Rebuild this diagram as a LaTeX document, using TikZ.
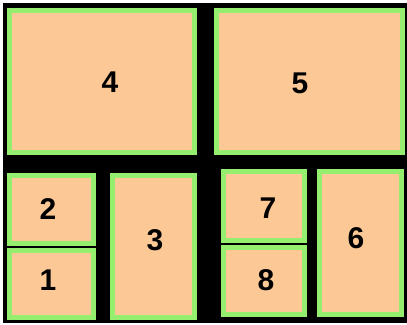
\documentclass[tikz,border=0pt]{standalone}
\usepackage{fontspec}
\setmainfont{Liberation Sans}
\definecolor{peach}{RGB}{252,201,150}
\definecolor{lgreen}{RGB}{150,238,110}
\tikzset{
  panel/.style={draw=lgreen, line width=5pt, fill=peach, inner sep=0pt, outer sep=0pt},
  num/.style={font=\fontsize{30}{30}\selectfont\bfseries, inner sep=0pt, text=black}
}
\begin{document}
\begin{tikzpicture}[x=1pt,y=-1pt]
\useasboundingbox (0,0) rectangle (407,324);
\fill[white] (0,0) rectangle (407,324);
\fill[black] (3,3) rectangle (407,323);
\node[panel, minimum width=185pt, minimum height=142pt] (b4) at (102,81.5) {};
\node[panel, minimum width=186pt, minimum height=142pt] (b5) at (309.5,81.5) {};
\node[panel, minimum width=84pt, minimum height=68pt] (b2) at (51.5,209.5) {};
\node[panel, minimum width=84pt, minimum height=67pt] (b1) at (51.5,284) {};
\node[panel, minimum width=82pt, minimum height=142pt] (b3) at (153.5,246.5) {};
\node[panel, minimum width=81pt, minimum height=69pt] (b7) at (264,206) {};
\node[panel, minimum width=81pt, minimum height=67pt] (b8) at (264,281) {};
\node[panel, minimum width=82pt, minimum height=143pt] (b6) at (360.5,243) {};
\node[num] (t4) at (110,82) {4};
\node[num] (t5) at (300,83) {5};
\node[num] (t2) at (48,209) {2};
\node[num] (t1) at (48,280) {1};
\node[num] (t3) at (155,240) {3};
\node[num] (t7) at (268,208) {7};
\node[num] (t8) at (266,280) {8};
\node[num] (t6) at (356,238) {6};
\end{tikzpicture}
\end{document}
